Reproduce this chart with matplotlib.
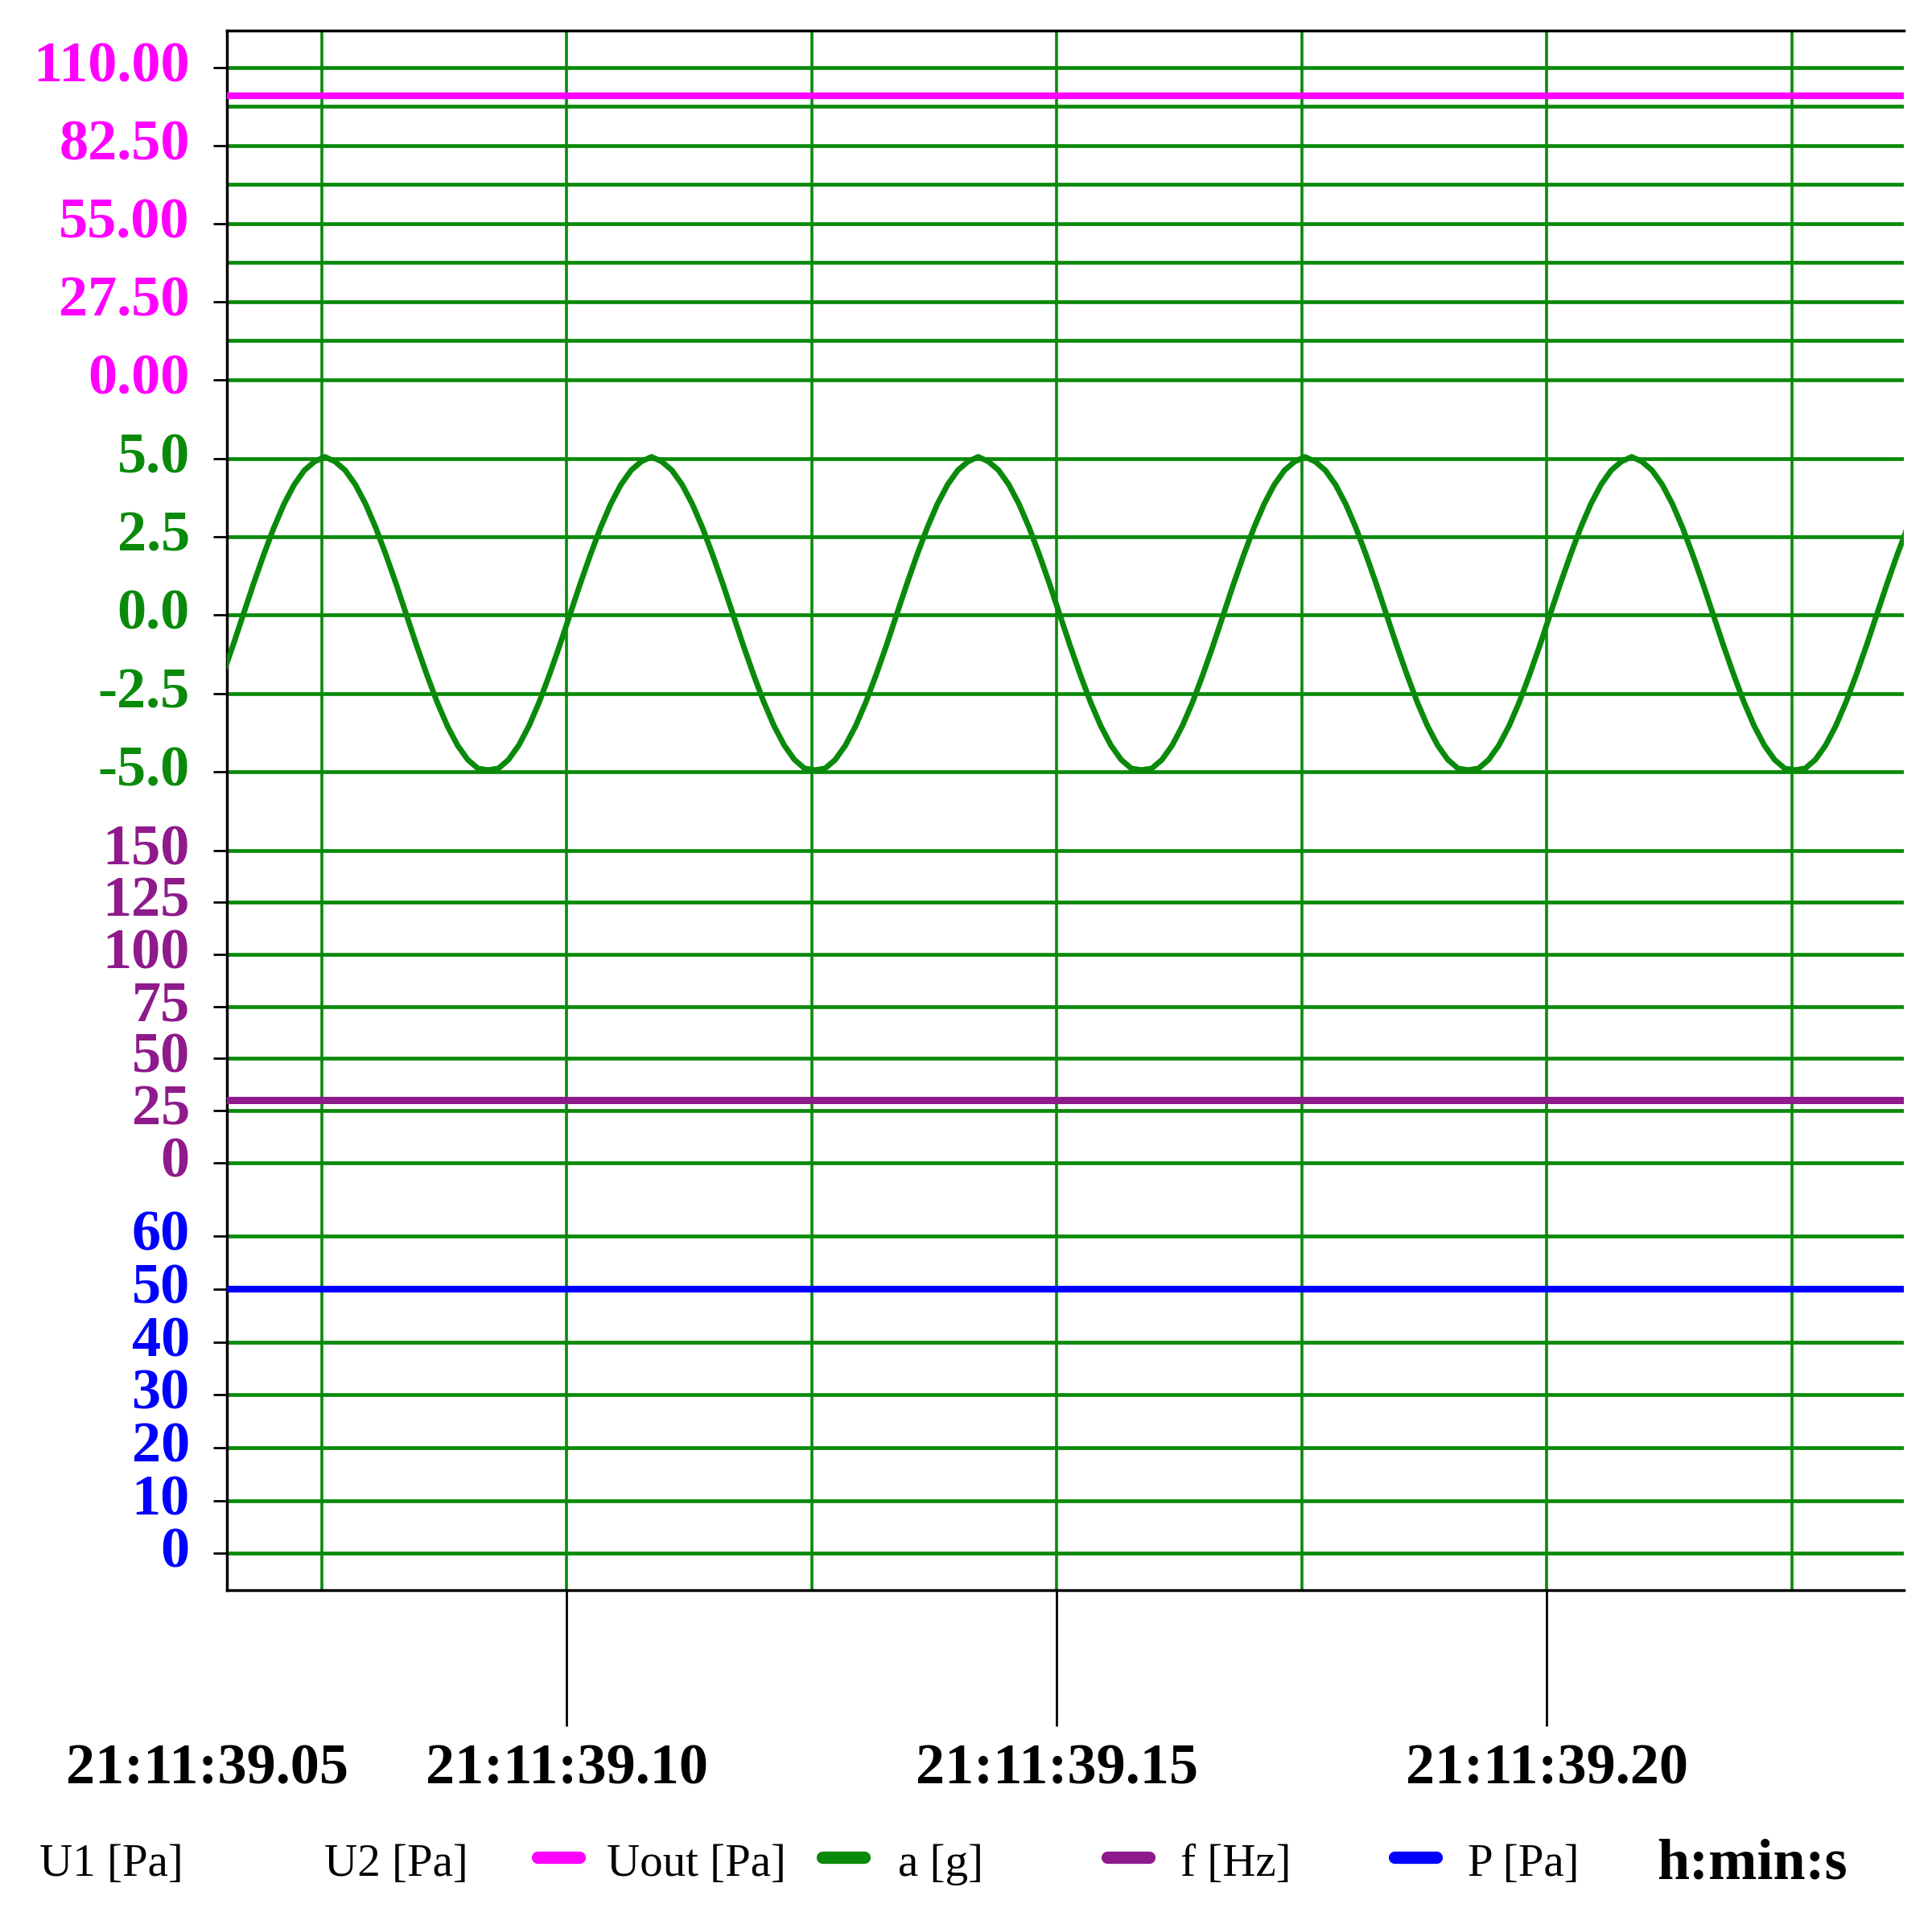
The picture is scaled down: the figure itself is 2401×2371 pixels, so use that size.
import numpy as np
import matplotlib.pyplot as plt
from matplotlib.lines import Line2D
import matplotlib.transforms as mtransforms

# dados
uout_ticks = [0.0, 27.5, 55.0, 82.5, 110.0]
uout_valor = 100.0
a_ticks = [-5.0, -2.5, 0.0, 2.5, 5.0]
f_ticks = [0, 25, 50, 75, 100, 125, 150]
f_valor = 30.0
p_ticks = [0, 10, 20, 30, 40, 50, 60]
p_valor = 50.0
tempo_ticks = [39.10, 39.15, 39.20]
tempo_labels = ["21:11:39.10", "21:11:39.15", "21:11:39.20"]
grade_vertical = [39.075, 39.100, 39.125, 39.150, 39.175, 39.200, 39.225]
# aceleração amostrada (32 pontos por período de 1/30 s)
periodo_a = [-1.91, -0.98, 0, 0.98, 1.91, 2.78, 3.54, 4.16, 4.62, 4.90, 5.05, 4.90, 4.62, 4.16,
             3.54, 2.78, 1.91, 0.98, 0, -0.98, -1.91, -2.78, -3.54, -4.16, -4.62, -4.90, -4.95,
             -4.90, -4.62, -4.16, -3.54, -2.78]
a_valores = periodo_a * 6
t_inicio = 39.0649
t_passo = 1 / 960

t_min, t_max = 39.0653, 39.2364

# posição vertical de cada faixa (em "linhas" do painel)
def y_uout(v): return 308 - np.asarray(v) * 253 / 110
def y_a(v): return 499 - np.asarray(v) * 127 / 5
def y_f(v): return 943 - np.asarray(v) * 253 / 150
def y_p(v): return 1260 - np.asarray(v) * 257 / 60

verde = "#0a8a0a"
magenta = "#ff00ff"
roxo = "#8e1a8c"
azul = "#0000ff"

fig = plt.figure(figsize=(24.01, 23.71), dpi=100)
ax = fig.add_axes([0.1173, 0.1665, 0.868, 0.8175])
ax.set_xlim(t_min, t_max)
ax.set_ylim(1290, 25)

# grade horizontal
linhas = list(y_uout(uout_ticks)) + list(y_uout([13.75, 41.25, 68.75, 96.25]))
linhas += list(y_a(a_ticks)) + list(y_f(f_ticks)) + list(y_p(p_ticks))
for y in linhas:
    ax.axhline(y, color=verde, lw=3.4, zorder=1)
for x in grade_vertical:
    ax.axvline(x, color=verde, lw=2.6, zorder=1)

# séries
ax.axhline(y_uout(uout_valor), color=magenta, lw=6, zorder=3)
ax.axhline(y_f(f_valor), color=roxo, lw=6.5, zorder=3)
ax.axhline(y_p(p_valor), color=azul, lw=6, zorder=3)
t_a = t_inicio + t_passo * np.arange(len(a_valores))
ax.plot(t_a, y_a(a_valores), color=verde, lw=5, zorder=3)

# rótulos do eixo y
fonte = dict(family=["Liberation Serif", "DejaVu Serif"], fontweight="bold", fontsize=52)
trans = mtransforms.blended_transform_factory(ax.transAxes, ax.transData)
grupos = [(uout_ticks, y_uout, magenta, "{:.2f}"), (a_ticks, y_a, verde, "{:.1f}"),
          (f_ticks, y_f, roxo, "{:d}"), (p_ticks, y_p, azul, "{:d}")]
todas_y = []
for ticks, func, cor, fmt in grupos:
    for v in ticks:
        y = float(func(v))
        todas_y.append(y)
        ax.text(-0.022, y, fmt.format(v), transform=trans, ha="right", va="center",
                color=cor, **fonte)
ax.set_yticks(todas_y)
ax.set_yticklabels([])
ax.tick_params(axis="y", length=12, width=2, color="black")

ax.set_xticks(tempo_ticks)
ax.set_xticklabels([])
ax.tick_params(axis="x", length=122, width=2, color="black")
transx = mtransforms.blended_transform_factory(ax.transData, ax.transAxes)
for t, lab in zip([39.0633] + tempo_ticks, ["21:11:39.05"] + tempo_labels):
    ax.text(t, -0.115, lab, transform=transx, ha="center", va="center", **fonte)

for s in ["left", "bottom", "top"]:
    ax.spines[s].set_linewidth(2.5)
ax.spines["right"].set_visible(False)

# legenda
ly = 1 - 1505 / 1540
fl = dict(family=["Liberation Serif", "DejaVu Serif"], fontsize=41, va="center")
def fx(px): return px / 1560
fig.text(fx(32), ly, "U1 [Pa]", **fl)
fig.text(fx(262), ly, "U2 [Pa]", **fl)
for x0, cor, txt, xt in [(430, magenta, "Uout [Pa]", 490), (660, verde, "a [g]", 725),
                         (890, roxo, "f [Hz]", 953), (1122, azul, "P [Pa]", 1185)]:
    fig.add_artist(Line2D([fx(x0 + 4), fx(x0 + 38)], [ly + 0.004, ly + 0.004], color=cor,
                          lw=11, solid_capstyle="round"))
    fig.text(fx(xt), ly, txt, **fl)
fig.text(fx(1338), ly, "h:min:s", family=["Liberation Serif", "DejaVu Serif"],
         fontweight="bold", fontsize=52, va="center")

fig.savefig("out.png", dpi=100)
